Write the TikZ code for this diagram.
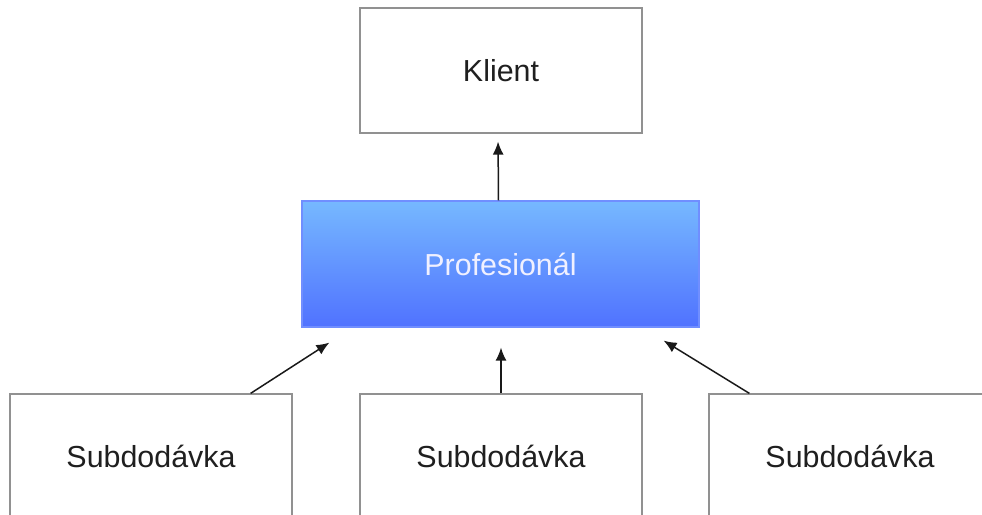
\documentclass[tikz,border=0pt]{standalone}
\usepackage{fontspec}
\setmainfont{Liberation Sans}
\usetikzlibrary{positioning, calc, arrows.meta}
\definecolor{boxgray}{RGB}{145,145,145}
\definecolor{protop}{RGB}{118,184,255}
\definecolor{probottom}{RGB}{80,114,255}
\definecolor{proborder}{RGB}{112,142,255}
\tikzset{
    box/.style={draw=boxgray, line width=0.6pt, minimum width=141pt, minimum height=62.5pt,
        inner sep=0pt, text=black!88, font=\fontsize{15.2}{18}\selectfont},
    probox/.style={box, draw=proborder, minimum width=198.5pt, minimum height=63pt,
        top color=protop, bottom color=probottom, text=white!94!blue},
    link/.style={-{Latex[length=6.5pt, width=5.5pt]}, line width=0.75pt, black!90},
}

\begin{document}
\begin{tikzpicture}[x=0.5pt, y=-0.5pt]
    \useasboundingbox (0,0) rectangle (982,515);
    \clip (0,0) rectangle (982,515);

    % boxes
    \node[box] (klient) at (501,70.5) {Klient};
    \node[probox] (prof) at (500.5,264) {Profesionál};
    \node[box] (subA) at (151,456.5) {Subdodávka};
    \node[box] (subB) at (501,456.5) {Subdodávka};
    \node[box] (subC) at (850,456.5) {Subdodávka};

    % arrows
    \draw[link, shorten >=4pt] ($(prof.north)+(-2,0)$) -- ($(klient.south)+(-3,0)$);
    \draw[link, shorten >=10pt] (subB.north) -- (subB.north |- prof.south);
    \draw[link] ($(subA.north east)+(-42,0)$) -- ($(prof.south west)+(28,15)$);
    \draw[link] ($(subC.north west)+(41,0)$) -- ($(prof.south east)+(-36,13)$);
\end{tikzpicture}
\end{document}
